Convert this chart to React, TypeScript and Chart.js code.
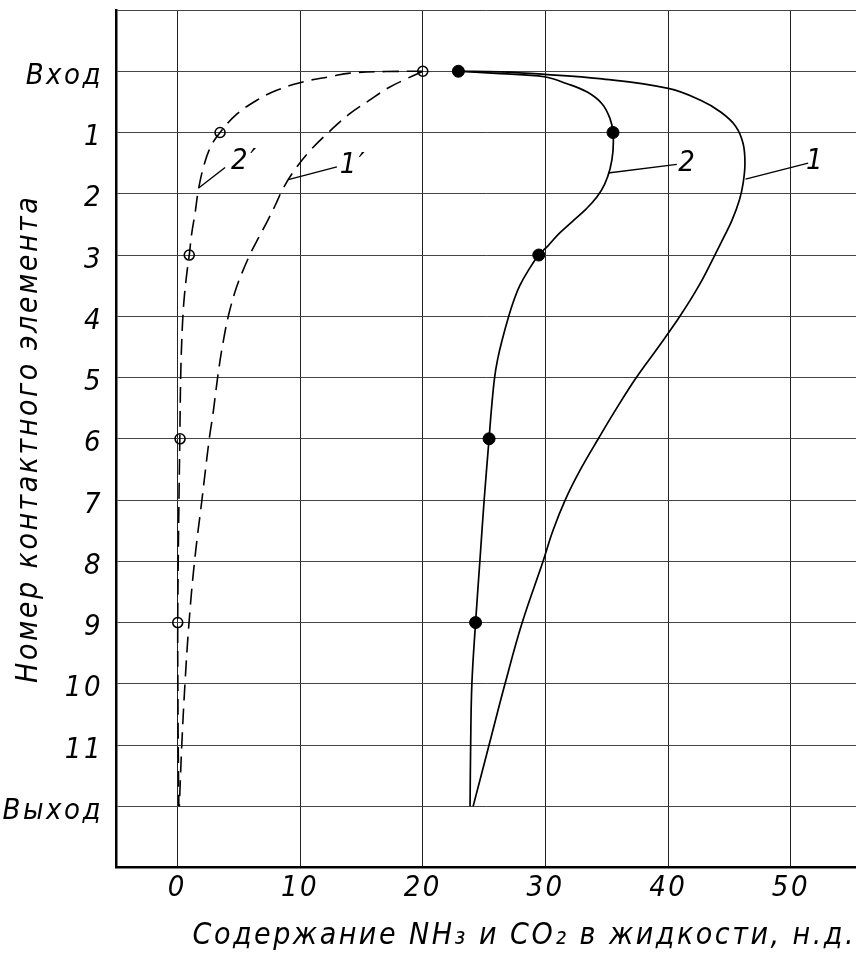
import { useEffect, useRef } from 'react';
import { Chart, registerables } from 'chart.js';

Chart.register(...registerables);

// ---- axis ticks ----
const xTicks = [0, 10, 20, 30, 40, 50];
const rowTicks = [-1, 0, 1, 2, 3, 4, 5, 6, 7, 8, 9, 10, 11, 12];
const rowLabels = ['Вход', '1', '2', '3', '4', '5', '6', '7', '8', '9', '10', '11', 'Выход'];

const xTitle = 'Содержание NH₃ и CO₂ в жидкости, н.д.';
const yTitle = 'Номер контактного элемента';

// ---- curves: [content, row] ----
const curve1 = [
  [22.9, 0], [26.3, 0.01], [29.9, 0.05], [34.4, 0.12], [40.0, 0.28], [42.6, 0.47],
  [44.3, 0.67], [45.5, 0.9], [46.1, 1.18], [46.25, 1.51], [46.1, 1.83], [45.8, 2.1],
  [45.2, 2.43], [44.5, 2.72], [43.8, 3.0], [42.5, 3.5], [40.95, 4.0], [39.2, 4.5],
  [37.4, 5.0], [35.8, 5.5], [34.3, 6.0], [32.85, 6.5], [31.6, 7.0], [30.6, 7.5],
  [29.8, 8.0], [28.1, 9.0], [26.7, 10.0], [25.4, 11.0], [24.1, 12.0],
];
const curve2 = [
  [22.9, 0], [26.3, 0.04], [29.9, 0.09], [31.7, 0.2], [33.4, 0.34], [34.6, 0.53],
  [35.25, 0.77], [35.5, 1.0], [35.5, 1.3], [35.25, 1.6], [34.8, 1.85], [34.2, 2.05],
  [33.3, 2.25], [32.2, 2.45], [31.1, 2.65], [30.2, 2.85], [29.45, 3.0], [28.6, 3.25],
  [27.9, 3.5], [27.4, 3.75], [27.0, 4.0], [26.45, 4.4], [26.1, 4.7], [25.85, 5.0],
  [25.6, 5.5], [25.4, 6.0], [25.0, 7.0], [24.65, 8.0], [24.3, 9.0], [24.0, 10.0],
  [23.9, 11.0], [23.85, 12.0],
];
const curve1p = [
  [20, 0], [18.7, 0.12], [17.2, 0.27], [15.6, 0.48], [14.0, 0.7], [12.3, 1.0],
  [10.8, 1.3], [9.6, 1.6], [8.65, 1.9], [7.95, 2.2], [7.2, 2.5], [6.4, 2.8],
  [5.9, 3.0], [5.25, 3.3], [4.7, 3.6], [4.15, 4.0], [3.75, 4.4], [3.42, 4.8],
  [3.15, 5.2], [2.9, 5.6], [2.6, 6.0], [2.0, 7.0], [1.4, 8.0], [0.95, 9.0],
  [0.62, 10.0], [0.36, 11.0], [0.16, 12.0],
];
const curve2p = [
  [20, 0], [17, 0.005], [14.1, 0.03], [12.4, 0.09], [10.3, 0.17], [8.1, 0.31],
  [6.5, 0.47], [4.84, 0.7], [3.48, 1.0], [2.67, 1.25], [2.12, 1.57], [1.71, 1.94],
  [1.44, 2.32], [1.17, 2.65], [0.97, 3.0], [0.77, 3.3], [0.58, 3.65], [0.45, 4.0],
  [0.34, 4.5], [0.27, 5.0], [0.23, 5.5], [0.2, 6.0], [0.13, 7.0], [0.07, 8.0],
  [0.03, 9.0], [0.04, 10.0], [0.07, 11.0], [0.12, 12.0],
];

// ---- measured points ----
const markers2 = [[22.9, 0], [35.5, 1], [29.45, 3], [25.4, 6], [24.3, 9]];
const markers2p = [[20, 0], [3.48, 1], [0.97, 3], [0.22, 6], [0.03, 9]];

// ---- curve labels and leader lines ----
const leader1 = [[46.3, 1.76], [51.4, 1.5]];
const leader2 = [[35.1, 1.66], [40.7, 1.52]];
const leader1p = [[9.04, 1.77], [13.0, 1.56]];
const leader2p = [[1.71, 1.91], [3.89, 1.57]];
const curveLabels = [
  { text: '1', x: 52.0, y: 1.48 },
  { text: '2', x: 41.6, y: 1.5 },
  { text: '1′', x: 14.35, y: 1.53 },
  { text: '2′', x: 5.5, y: 1.48 },
];

const FONT = "'DejaVu Sans Condensed', 'DejaVu Sans', sans-serif";
const LETTER_SPACING = '2.5px';

const toPts = (a: number[][]) => a.map(([x, y]) => ({ x, y }));

export default function App() {
  const ref = useRef<HTMLCanvasElement>(null);

  useEffect(() => {
    if (!ref.current) return;

    const spacingPlugin = {
      id: 'spacing',
      beforeUpdate(chart: any) { chart.ctx.letterSpacing = LETTER_SPACING; },
      beforeDraw(chart: any) { chart.ctx.letterSpacing = LETTER_SPACING; },
    };

    const labelPlugin = {
      id: 'curveLabels',
      afterDatasetsDraw(chart: any) {
        const { ctx, scales } = chart;
        ctx.save();
        ctx.font = `italic 29px ${FONT}`;
        ctx.fillStyle = '#000';
        ctx.textAlign = 'center';
        ctx.textBaseline = 'middle';
        curveLabels.forEach((l) => {
          ctx.fillText(l.text, scales.x.getPixelForValue(l.x), scales.y.getPixelForValue(l.y));
        });
        ctx.restore();
      },
    };

    const solid = (data: number[][]) => ({
      data: toPts(data),
      showLine: true,
      borderColor: '#000',
      borderWidth: 1.7,
      pointRadius: 0,
      tension: 0.4,
      fill: false,
    });
    const dashed = (data: number[][], dash: number[]) => ({
      ...solid(data),
      borderWidth: 1.6,
      borderDash: dash,
    });
    const leader = (data: number[][]) => ({
      data: toPts(data),
      showLine: true,
      borderColor: '#000',
      borderWidth: 1.4,
      pointRadius: 0,
      tension: 0,
    });

    const tickFont = { family: FONT, size: 29, style: 'italic' };
    const titleFont = { family: FONT, size: 30, style: 'italic' };

    const chart = new Chart(ref.current, {
      type: 'scatter',
      data: {
        datasets: [
          {
            label: 'точки 2',
            data: toPts(markers2),
            pointRadius: 6,
            pointBackgroundColor: '#000',
            pointBorderColor: '#000',
            pointBorderWidth: 1,
            showLine: false,
          },
          {
            label: "точки 2'",
            data: toPts(markers2p),
            pointRadius: 5,
            pointBackgroundColor: 'rgba(0,0,0,0)',
            pointBorderColor: '#000',
            pointBorderWidth: 1.6,
            showLine: false,
          },
          { label: '1', ...solid(curve1) },
          { label: '2', ...solid(curve2) },
          { label: "1'", ...dashed(curve1p, [16, 8]) },
          { label: "2'", ...dashed(curve2p, [16, 8]) },
          { label: 'leader 1', ...leader(leader1) },
          { label: 'leader 2', ...leader(leader2) },
          { label: "leader 1'", ...leader(leader1p) },
          { label: "leader 2'", ...leader(leader2p) },
        ] as any,
      },
      options: {
        animation: false,
        responsive: false,
        maintainAspectRatio: false,
        devicePixelRatio: 1,
        layout: { autoPadding: false, padding: { top: 10, right: 0, bottom: 0, left: 0 } },
        plugins: {
          legend: { display: false },
          tooltip: { enabled: false },
        },
        scales: {
          x: {
            type: 'linear',
            min: -5,
            max: 55.3,
            afterFit: (s: any) => {
              s.height = 87.4;
              s.paddingLeft = 0;
              s.paddingRight = 0;
            },
            afterBuildTicks: (s: any) => { s.ticks = xTicks.map((v) => ({ value: v })); },
            grid: { color: '#222', lineWidth: 1, drawTicks: false },
            border: { display: true, color: '#000', width: 2.5 },
            ticks: {
              color: '#000',
              padding: 3,
              font: tickFont,
              callback: (v: any) => String(v),
            },
            title: {
              display: true,
              text: xTitle,
              align: 'end',
              color: '#000',
              font: titleFont,
              padding: { top: 0, bottom: 1 },
            },
          },
          y: {
            type: 'linear',
            reverse: true,
            min: -1,
            max: 13,
            afterFit: (s: any) => {
              s.width = 116;
              s.paddingTop = 0;
              s.paddingBottom = 0;
            },
            afterBuildTicks: (s: any) => { s.ticks = rowTicks.map((v) => ({ value: v })); },
            grid: { color: '#444', lineWidth: 1, drawTicks: false },
            border: { display: true, color: '#000', width: 2.5 },
            ticks: {
              color: '#000',
              padding: 13,
              labelOffset: 5,
              font: tickFont,
              callback: (v: any) => (v >= 0 && v < rowLabels.length ? rowLabels[v] : ''),
            },
            title: {
              display: true,
              text: yTitle,
              color: '#000',
              font: titleFont,
              padding: { top: 11, bottom: 0 },
            },
          },
        },
      } as any,
      plugins: [spacingPlugin, labelPlugin],
    });

    return () => chart.destroy();
  }, []);

  return (
    <div style={{ position: 'absolute', left: 0, top: 0, width: 856, height: 955 }}>
      <canvas ref={ref} width={856} height={955} style={{ display: 'block', width: 856, height: 955 }} />
    </div>
  );
}
